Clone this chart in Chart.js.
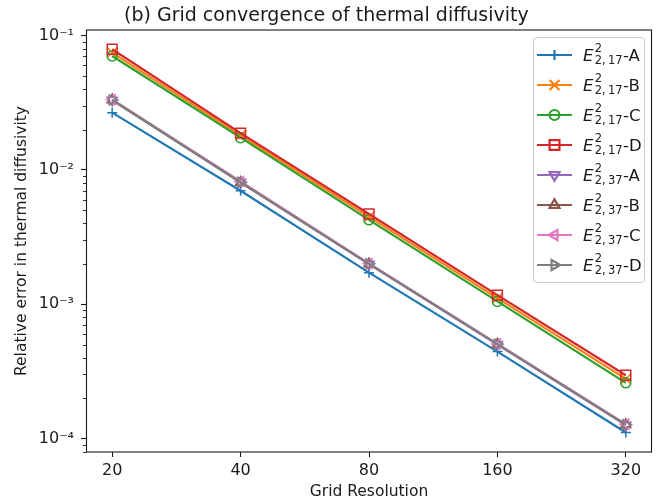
<!DOCTYPE html>
<html><head><meta charset="utf-8">
<script src="https://cdn.jsdelivr.net/npm/chart.js@4/dist/chart.umd.min.js"></script>
<style>html,body{margin:0;padding:0;background:#fff}</style>
</head><body>
<canvas id="c" width="660" height="502" style="width:660px;height:502px;display:block"></canvas>
<script>
// ---- data ----
const gridRes = [20, 40, 80, 160, 320];
const e17A = [0.0267, 0.0070, 0.00172, 0.000444, 0.000111];
const e17B = [0.0748, 0.0181, 0.00447, 0.00111, 0.000278];
const e17C = [0.0706, 0.0174, 0.00425, 0.00105, 0.000260];
const e17D = [0.0792, 0.0188, 0.00470, 0.00117, 0.000296];
const e37A = [0.0331, 0.0081, 0.00199, 0.000502, 0.000126];
const e37B = [0.0333, 0.0081, 0.00200, 0.000505, 0.000127];
const e37C = [0.0334, 0.0082, 0.00201, 0.000507, 0.000128];
const e37D = [0.0332, 0.0081, 0.00200, 0.000505, 0.000127];
const seriesValues = [e17A, e17B, e17C, e17D, e37A, e37B, e37C, e37D];
const seriesSub = ['2,\u200917', '2,\u200917', '2,\u200917', '2,\u200917', '2,\u200937', '2,\u200937', '2,\u200937', '2,\u200937'];
const seriesSuffix = ['-A', '-B', '-C', '-D', '-A', '-B', '-C', '-D'];
const seriesNames = seriesValues.map((v, i) => 'E^2_{' + seriesSub[i] + '}' + seriesSuffix[i]);
const yTickValues = [1e-4, 1e-3, 1e-2, 1e-1];
const yTickLabels = ['10\u207B\u2074', '10\u207B\u00B3', '10\u207B\u00B2', '10\u207B\u00B9'];
const titleText = '(b) Grid convergence of thermal diffusivity';
const xTitle = 'Grid Resolution';
const yTitle = 'Relative error in thermal diffusivity';

// ---- styles ----
const colors = ['#1f77b4', '#ff7f0e', '#2ca02c', '#d62728', '#9467bd', '#8c564b', '#e377c2', '#7f7f7f'];
const markers = [
  {s: 'cross', r: 5, rot: 0}, {s: 'crossRot', r: 7, rot: 0}, {s: 'circle', r: 5, rot: 0},
  {s: 'rect', r: 7, rot: 0}, {s: 'triangle', r: 5.8, rot: 180}, {s: 'triangle', r: 5.8, rot: 0},
  {s: 'triangle', r: 5.8, rot: -90}, {s: 'triangle', r: 5.8, rot: 90}
];
const FONT = '"DejaVu Sans", "Liberation Sans", sans-serif';
const TXT = '#1a1a1a';

const datasets = seriesValues.map((vals, i) => ({
  label: seriesNames[i],
  data: gridRes.map((x, j) => ({x: x, y: vals[j]})),
  borderColor: colors[i],
  backgroundColor: 'rgba(0,0,0,0)',
  borderWidth: 2.2,
  pointStyle: markers[i].s,
  pointRadius: markers[i].r,
  pointRotation: markers[i].rot,
  pointBorderWidth: 1.5,
  pointBorderColor: colors[i],
  pointBackgroundColor: 'rgba(0,0,0,0)',
  tension: 0,
  fill: false,
  order: seriesValues.length - i
}));

function drawMarker(ctx, m, x, y) {
  if (Chart.helpers && Chart.helpers.drawPoint) {
    Chart.helpers.drawPoint(ctx, {pointStyle: m.s, radius: m.r, rotation: m.rot, borderWidth: 1.5}, x, y);
  }
}

const framePlugin = {
  id: 'frameLegend',
  afterDatasetsDraw(chart) {
    const {ctx, chartArea: a, scales} = chart;
    ctx.save();
    ctx.strokeStyle = TXT; ctx.lineWidth = 0.9;
    scales.y.ticks.forEach(t => {
      if (t.mj) return;
      const py = Math.round(scales.y.getPixelForValue(t.value)) + 0.5;
      ctx.beginPath(); ctx.moveTo(a.left - 3.5, py); ctx.lineTo(a.left, py); ctx.stroke();
    });
    ctx.strokeStyle = TXT; ctx.lineWidth = 1.1;
    ctx.strokeRect(a.left, a.top, a.right - a.left, a.bottom - a.top);
    ctx.restore();
  },
  afterDraw(chart) {
    const ctx = chart.ctx;
    ctx.save();
    const bx = 533.5, by = 37.5, bw = 111, bh = 245;
    ctx.beginPath();
    if (ctx.roundRect) ctx.roundRect(bx, by, bw, bh, 3); else ctx.rect(bx, by, bw, bh);
    ctx.fillStyle = 'rgba(255,255,255,0.8)';
    ctx.fill();
    ctx.strokeStyle = '#cccccc'; ctx.lineWidth = 1;
    ctx.stroke();
    for (let i = 0; i < seriesValues.length; i++) {
      const yc = 55 + 30 * i;
      ctx.strokeStyle = colors[i]; ctx.lineWidth = 2.2;
      ctx.beginPath(); ctx.moveTo(537, yc); ctx.lineTo(572, yc); ctx.stroke();
      ctx.fillStyle = 'rgba(0,0,0,0)';
      ctx.strokeStyle = colors[i];
      drawMarker(ctx, markers[i], 554.5, yc);
      const base = yc + 6;
      ctx.fillStyle = TXT;
      ctx.textBaseline = 'alphabetic';
      ctx.textAlign = 'left';
      ctx.font = 'oblique 16.5px ' + FONT;
      ctx.fillText('E', 583, base);
      const x2 = 583 + ctx.measureText('E').width + 1.2;
      ctx.font = '11.5px ' + FONT;
      ctx.fillText('2', x2, base - 9.3);
      ctx.fillText(seriesSub[i], x2, base + 3.3);
      const sw = ctx.measureText(seriesSub[i]).width;
      ctx.font = '16.5px ' + FONT;
      ctx.fillText(seriesSuffix[i], x2 + sw + 0.5, base);
    }
    ctx.restore();
  }
};

new Chart(document.getElementById('c'), {
  type: 'line',
  data: {datasets: datasets},
  plugins: [framePlugin],
  options: {
    responsive: false,
    animation: false,
    devicePixelRatio: 1,
    layout: {padding: {left: 0, right: 7.3, top: 0, bottom: 0}},
    plugins: {
      legend: {display: false},
      tooltip: {enabled: false},
      title: {display: true, text: titleText, color: TXT,
        font: {family: FONT, size: 19, weight: 'normal', lineHeight: 1.2}, padding: {top: 4.6, bottom: 2.6}}
    },
    scales: {
      x: {
        type: 'logarithmic',
        min: 20 * Math.pow(2, -0.2),
        max: 320 * Math.pow(2, 0.2),
        afterBuildTicks: s => { s.ticks = gridRes.map(v => ({value: v, mj: true})); },
        afterFit: s => { s.height = 50; },
        ticks: {callback: v => String(v), color: TXT, font: {family: FONT, size: 16}, padding: 4,
          autoSkip: false, maxRotation: 0, minRotation: 0},
        grid: {drawOnChartArea: false, drawTicks: true, tickLength: 5, tickColor: TXT, tickWidth: 1.1},
        border: {display: false},
        title: {display: true, text: xTitle, color: TXT, font: {family: FONT, size: 15.5}, padding: {top: 0, bottom: 1}}
      },
      y: {
        type: 'logarithmic',
        min: Math.pow(10, -4.1),
        max: Math.pow(10, -0.958),
        afterBuildTicks: s => {
          const t = [];
          for (let e = -5; e <= 0; e++) {
            for (let m = 1; m <= 9; m++) {
              const v = m * Math.pow(10, e);
              if (v >= s.min && v <= s.max) t.push({value: v, mj: m === 1});
            }
          }
          s.ticks = t;
        },
        afterFit: s => { s.width = 86.5; },
        ticks: {
          callback: (v, i, ticks) => {
            if (!ticks[i].mj) return '';
            const k = yTickValues.findIndex(tv => Math.abs(Math.log10(tv) - Math.log10(v)) < 1e-6);
            return k >= 0 ? yTickLabels[k] : '';
          },
          color: TXT, font: {family: FONT, size: 16}, padding: 7, autoSkip: false
        },
        grid: {drawOnChartArea: false, drawTicks: true, tickLength: 5.5, tickWidth: 1.1,
          tickColor: c => (c.tick && c.tick.mj) ? TXT : 'rgba(0,0,0,0)'},
        border: {display: false},
        title: {display: true, text: yTitle, color: TXT, font: {family: FONT, size: 15.5}, padding: {top: 13, bottom: 0}}
      }
    }
  }
});
</script>
</body></html>
